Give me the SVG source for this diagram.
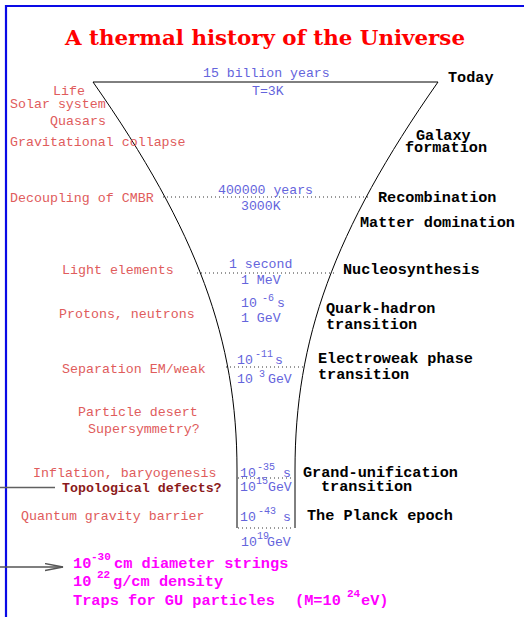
<svg xmlns="http://www.w3.org/2000/svg" width="524" height="617" viewBox="0 0 524 617">
<style>
.red{font-family:"Liberation Mono",monospace;font-size:13.3px;fill:#e05c5c}
.blue{font-family:"Liberation Mono",monospace;font-size:13.2px;fill:#6464dc}
.sup{font-family:"Liberation Mono",monospace;font-size:10px;fill:#6464dc}
.blk{font-family:"Liberation Mono",monospace;font-size:15.2px;font-weight:bold;fill:#000}
.mag{font-family:"Liberation Mono",monospace;font-size:15.3px;font-weight:bold;fill:#ff00ff}
.msup{font-family:"Liberation Mono",monospace;font-size:11px;font-weight:bold;fill:#ff00ff}
.dot{stroke:#333;stroke-width:1;stroke-dasharray:1 3;fill:none}
.edge{stroke:#000;stroke-width:1;fill:none}
</style>
<defs>
<marker id="open" markerWidth="20" markerHeight="10" refX="18" refY="4" orient="auto" markerUnits="userSpaceOnUse">
<polyline points="0,0.5 18,4 0,7.5" fill="none" stroke="#555" stroke-width="1.3"/>
</marker>
</defs>
<rect width="524" height="617" fill="#fff"/>
<g id="frame">
<path d="M6,617 V6 H524" fill="none" stroke="#0a0ae6" stroke-width="2.2"/>
</g>
<g id="title">
<text x="265" y="45" text-anchor="middle" font-family="'DejaVu Serif','Liberation Serif',serif" font-weight="bold" font-size="21" fill="#ff0000" textLength="400" lengthAdjust="spacingAndGlyphs">A thermal history of the Universe</text>
</g>
<g id="connectors">
<path class="edge" d="M93,82 H438"/>
<path class="edge" d="M93,82 C198,232 237,340 237,470 L237,528"/>
<path class="edge" d="M438,82 C333,232 295,340 295,470 L295,528"/>
<path class="dot" d="M163,197 H368"/>
<path class="dot" d="M197,273 H334"/>
<path class="dot" d="M226,367 H304"/>
<path class="dot" d="M238,478 H294"/>
<path class="dot" d="M238,528 H294"/>
<path d="M0,487.5 H55" stroke="#606060" stroke-width="1.6"/>
<path d="M0,567 H63" stroke="#555" stroke-width="1.3" marker-end="url(#open)"/>
</g>
<g id="today">
<text class="blue" x="203" y="77">15 billion years</text>
<text class="blue" x="252" y="95">T=3K</text>
<text class="blk" x="448" y="82">Today</text>
</g>
<g id="late-structure">
<text class="red" x="53" y="95">Life</text>
<text class="red" x="10" y="108">Solar system</text>
<text class="red" x="50" y="125">Quasars</text>
<text class="red" x="10" y="146">Gravitational collapse</text>
</g>
<g id="galaxy">
<text class="blk" x="416" y="140">Galaxy</text>
<text class="blk" x="405" y="152">formation</text>
</g>
<g id="recombination">
<text class="red" x="10" y="202">Decoupling of CMBR</text>
<text class="blue" x="218" y="194">400000 years</text>
<text class="blue" x="241" y="210">3000K</text>
<text class="blk" x="378" y="202">Recombination</text>
</g>
<g id="matter">
<text class="blk" x="360" y="227">Matter domination</text>
</g>
<g id="nucleosynthesis">
<text class="red" x="62" y="274">Light elements</text>
<text class="blue" x="229" y="268">1 second</text>
<text class="blue" x="241" y="284">1 MeV</text>
<text class="blk" x="343" y="274">Nucleosynthesis</text>
</g>
<g id="quark-hadron">
<text class="red" x="59" y="318">Protons, neutrons</text>
<text class="blue" x="241" y="307">10</text>
<text class="sup" x="262" y="301">-6</text>
<text class="blue" x="277" y="307">s</text>
<text class="blue" x="241" y="322">1 GeV</text>
<text class="blk" x="326" y="313">Quark-hadron</text>
<text class="blk" x="326" y="329">transition</text>
</g>
<g id="electroweak">
<text class="red" x="62" y="373">Separation EM/weak</text>
<text class="blue" x="237" y="364">10</text>
<text class="sup" x="255" y="357">-11</text>
<text class="blue" x="275" y="364">s</text>
<text class="blue" x="237" y="383">10</text>
<text class="sup" x="259" y="377">3</text>
<text class="blue" x="268" y="383">GeV</text>
<text class="blk" x="318" y="363">Electroweak phase</text>
<text class="blk" x="318" y="379">transition</text>
</g>
<g id="desert">
<text class="red" x="78" y="416">Particle desert</text>
<text class="red" x="88" y="433">Supersymmetry?</text>
</g>
<g id="grand-unification">
<text class="red" x="33" y="477">Inflation, baryogenesis</text>
<text x="62" y="492" font-family="'Liberation Mono',monospace" font-size="13.3px" font-weight="bold" fill="#8b1a1a">Topological defects?</text>
<text class="blue" x="240" y="477">10</text>
<text class="sup" x="257" y="470">-35</text>
<text class="blue" x="283" y="477">s</text>
<text class="blue" x="240" y="491">10</text>
<text class="sup" x="256" y="484">15</text>
<text class="blue" x="268" y="491">GeV</text>
<text class="blk" x="303" y="477">Grand-unification</text>
<text class="blk" x="321" y="491">transition</text>
</g>
<g id="planck">
<text class="red" x="21" y="520">Quantum gravity barrier</text>
<text class="blue" x="240" y="521">10</text>
<text class="sup" x="258" y="514">-43</text>
<text class="blue" x="283" y="521">s</text>
<text class="blue" x="241" y="546">10</text>
<text class="sup" x="257" y="539">19</text>
<text class="blue" x="267" y="546">GeV</text>
<text class="blk" x="307" y="520">The Planck epoch</text>
</g>
<g id="strings">
<text class="mag" x="73" y="568">10</text>
<text class="msup" x="91" y="560">-30</text>
<text class="mag" x="114" y="568">cm diameter strings</text>
<text class="mag" x="73" y="586">10</text>
<text class="msup" x="97" y="578">22</text>
<text class="mag" x="113" y="586">g/cm density</text>
<text class="mag" x="73" y="605">Traps for GU particles</text>
<text class="mag" x="295" y="605">(M=10</text>
<text class="msup" x="347" y="597">24</text>
<text class="mag" x="361" y="605">eV)</text>
</g>
</svg>
